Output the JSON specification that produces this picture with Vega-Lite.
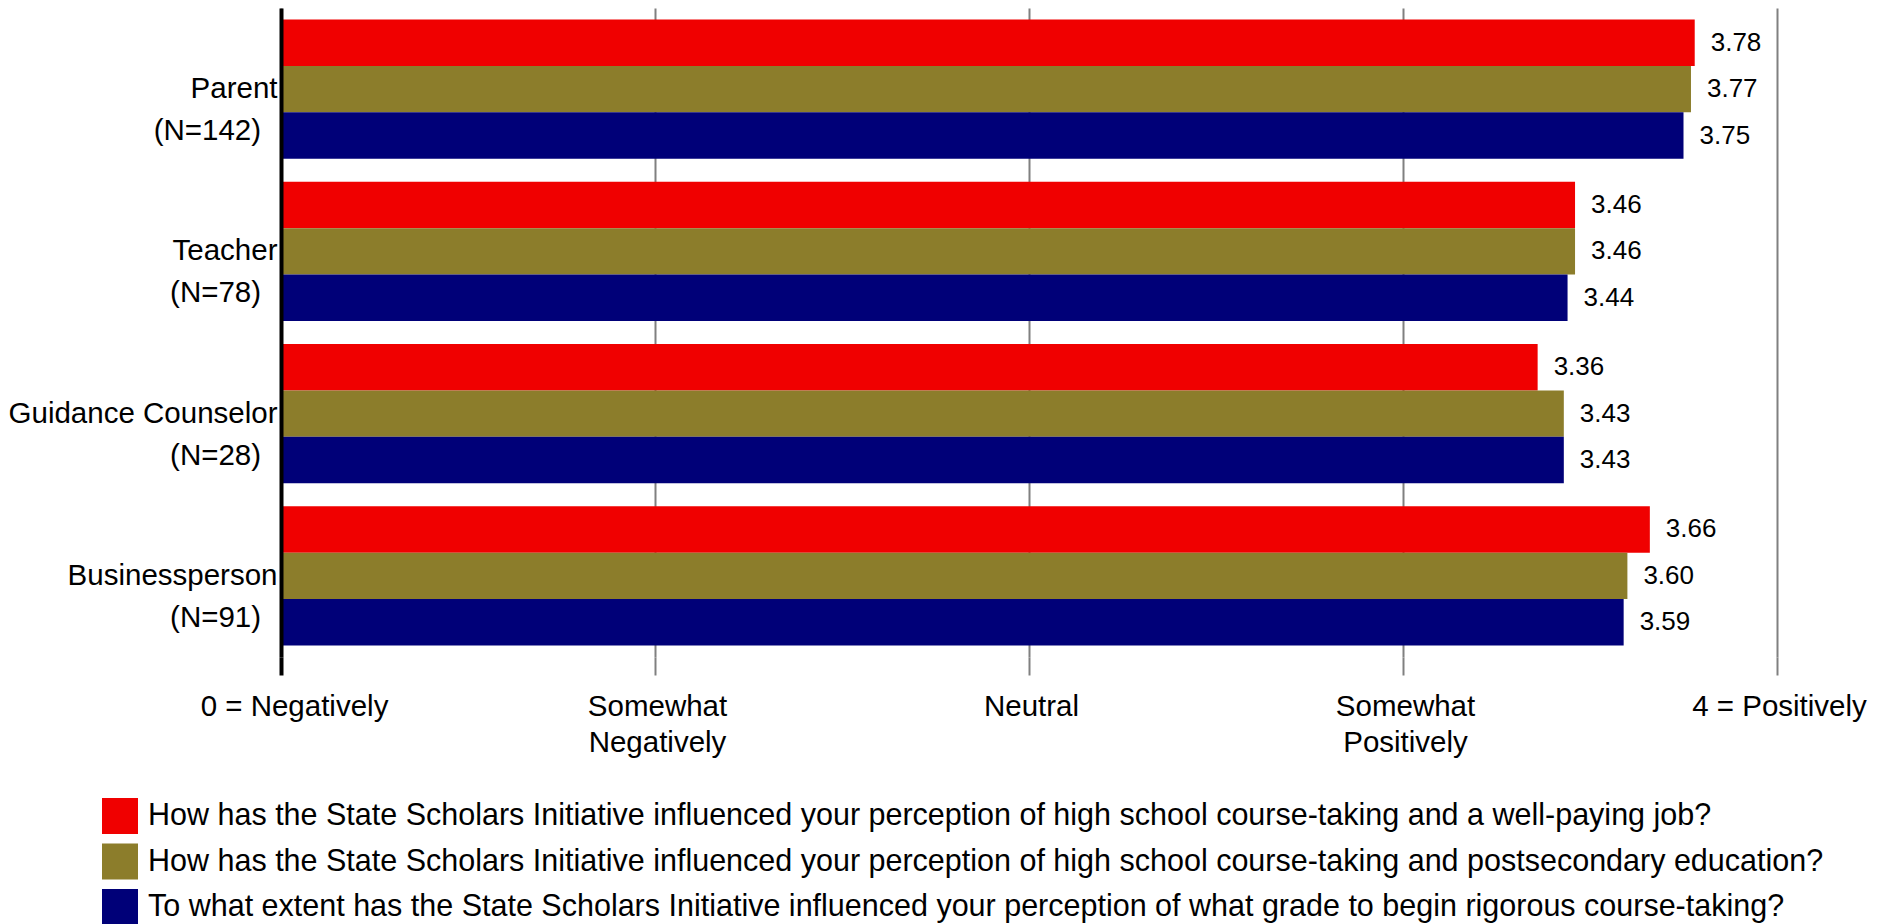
{
  "$schema": "https://vega.github.io/schema/vega-lite/v6.json",
  "width": 1496,
  "height": 649,
  "autosize": {"type": "none"},
  "padding": {"left": 281, "top": 8, "right": 113, "bottom": 267},
  "background": "white",
  "config": {"view": {"stroke": null}, "font": "Liberation Sans"},
  "data": {
    "values": [
      {"group": "Parent\n(N=142)", "question": "How has the State Scholars Initiative influenced your perception of high school course-taking and a well-paying job?", "value": 3.78},
      {"group": "Parent\n(N=142)", "question": "How has the State Scholars Initiative influenced your perception of high school course-taking and postsecondary education?", "value": 3.77},
      {"group": "Parent\n(N=142)", "question": "To what extent has the State Scholars Initiative influenced your perception of what grade to begin rigorous course-taking?", "value": 3.75},
      {"group": "Teacher\n(N=78)", "question": "How has the State Scholars Initiative influenced your perception of high school course-taking and a well-paying job?", "value": 3.46},
      {"group": "Teacher\n(N=78)", "question": "How has the State Scholars Initiative influenced your perception of high school course-taking and postsecondary education?", "value": 3.46},
      {"group": "Teacher\n(N=78)", "question": "To what extent has the State Scholars Initiative influenced your perception of what grade to begin rigorous course-taking?", "value": 3.44},
      {"group": "Guidance Counselor\n(N=28)", "question": "How has the State Scholars Initiative influenced your perception of high school course-taking and a well-paying job?", "value": 3.36},
      {"group": "Guidance Counselor\n(N=28)", "question": "How has the State Scholars Initiative influenced your perception of high school course-taking and postsecondary education?", "value": 3.43},
      {"group": "Guidance Counselor\n(N=28)", "question": "To what extent has the State Scholars Initiative influenced your perception of what grade to begin rigorous course-taking?", "value": 3.43},
      {"group": "Businessperson\n(N=91)", "question": "How has the State Scholars Initiative influenced your perception of high school course-taking and a well-paying job?", "value": 3.66},
      {"group": "Businessperson\n(N=91)", "question": "How has the State Scholars Initiative influenced your perception of high school course-taking and postsecondary education?", "value": 3.60},
      {"group": "Businessperson\n(N=91)", "question": "To what extent has the State Scholars Initiative influenced your perception of what grade to begin rigorous course-taking?", "value": 3.59}
    ]
  },
  "encoding": {
    "y": {
      "field": "group",
      "type": "nominal",
      "sort": ["Parent\n(N=142)", "Teacher\n(N=78)", "Guidance Counselor\n(N=28)", "Businessperson\n(N=91)"],
      "scale": {"paddingInner": 0.142, "paddingOuter": 0.071},
      "axis": {
        "title": null,
        "ticks": false,
        "domain": true,
        "domainColor": "black",
        "domainWidth": 4,
        "labelFontSize": 29.5,
        "labelColor": "black",
        "labelLineHeight": 42,
        "labelPadding": 4,
        "labelAlign": "right",
        "labelBaseline": "middle",
        "labelLimit": 400,
        "labelExpr": "[split(datum.label, '\\n')[0], split(datum.label, '\\n')[1] + '\u00a0\u00a0\u200b']",
        "zindex": 1
      }
    },
    "yOffset": {
      "field": "question",
      "type": "nominal",
      "sort": [
        "How has the State Scholars Initiative influenced your perception of high school course-taking and a well-paying job?",
        "How has the State Scholars Initiative influenced your perception of high school course-taking and postsecondary education?",
        "To what extent has the State Scholars Initiative influenced your perception of what grade to begin rigorous course-taking?"
      ],
      "scale": {"paddingInner": 0, "paddingOuter": 0}
    },
    "x": {
      "field": "value",
      "type": "quantitative",
      "scale": {"domain": [0, 4], "nice": false, "zero": true},
      "axis": {
        "title": null,
        "values": [0, 1, 2, 3, 4],
        "grid": true,
        "gridColor": "#808080",
        "gridWidth": 2,
        "domain": false,
        "ticks": true,
        "tickSize": 18,
        "tickColor": {"condition": {"test": "datum.value === 0", "value": "black"}, "value": "#808080"},
        "tickWidth": {"condition": {"test": "datum.value === 0", "value": 4}, "value": 2},
        "labelFontSize": 29.5,
        "labelColor": "black",
        "labelPadding": 17,
        "labelLineHeight": 36,
        "labelOffset": {"condition": {"test": "datum.value === 0", "value": 13}, "value": 2},
        "labelFlush": false,
        "labelOverlap": false,
        "labelBound": false,
        "labelLimit": 400,
        "labelExpr": "datum.value == 0 ? '0 = Negatively' : datum.value == 1 ? ['Somewhat', 'Negatively'] : datum.value == 2 ? 'Neutral' : datum.value == 3 ? ['Somewhat', 'Positively'] : '4 = Positively'"
      }
    }
  },
  "layer": [
    {
      "mark": {"type": "bar"},
      "encoding": {
        "color": {
          "field": "question",
          "type": "nominal",
          "scale": {
            "domain": [
              "How has the State Scholars Initiative influenced your perception of high school course-taking and a well-paying job?",
              "How has the State Scholars Initiative influenced your perception of high school course-taking and postsecondary education?",
              "To what extent has the State Scholars Initiative influenced your perception of what grade to begin rigorous course-taking?"
            ],
            "range": ["#F00000", "#8C7D2B", "#000078"]
          },
          "legend": {
            "orient": "none",
            "legendX": -179,
            "legendY": 790,
            "title": null,
            "direction": "vertical",
            "symbolType": "square",
            "symbolSize": 1296,
            "symbolStrokeWidth": 0,
            "labelFontSize": 30.5,
            "labelColor": "black",
            "labelOffset": 10,
            "rowPadding": 9.5,
            "padding": 0,
            "labelLimit": 2000
          }
        }
      }
    },
    {
      "mark": {"type": "text", "align": "left", "baseline": "middle", "dx": 16, "fontSize": 26, "color": "black"},
      "encoding": {
        "text": {"field": "value", "type": "quantitative", "format": ".2f"}
      }
    }
  ]
}
